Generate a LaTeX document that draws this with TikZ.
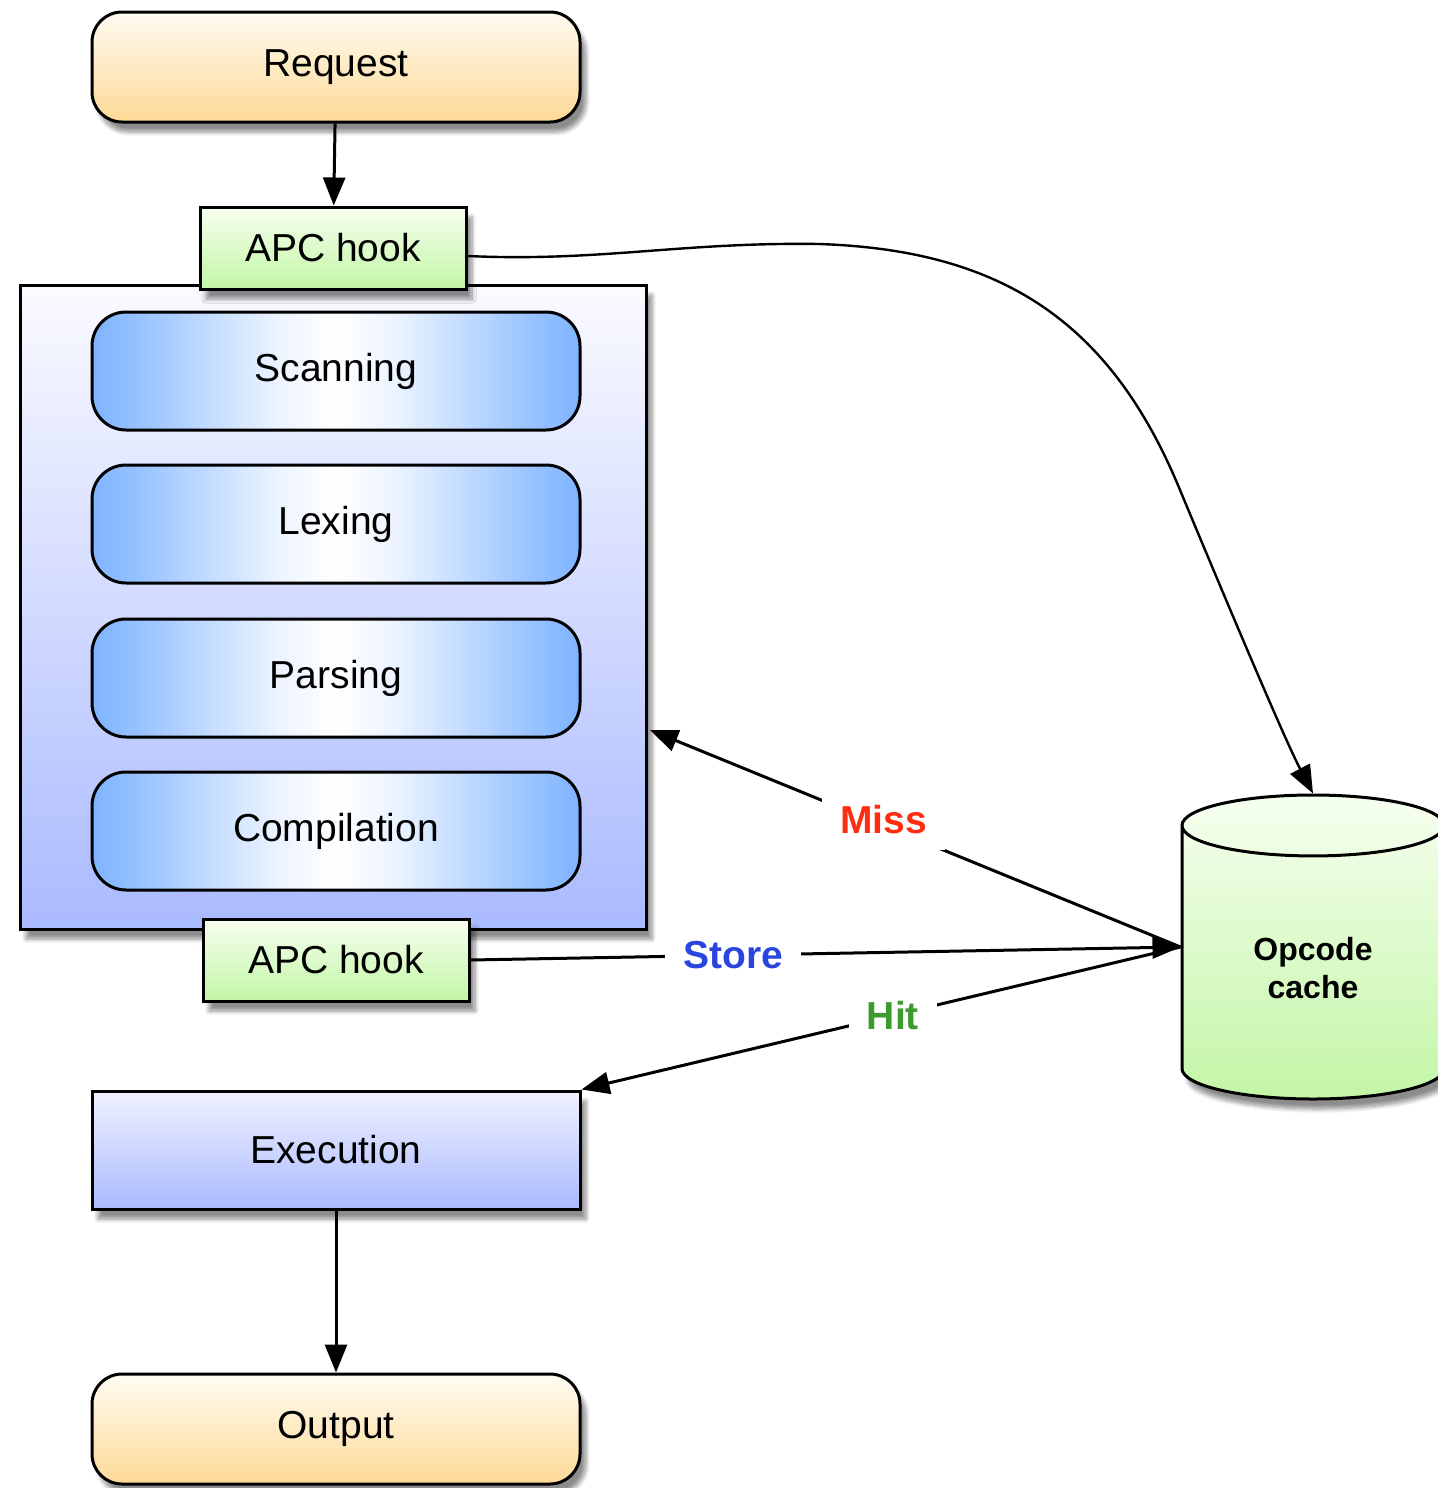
\documentclass[tikz,border=0pt]{standalone}
\usepackage{fontspec}
\setmainfont{Liberation Sans}
\usetikzlibrary{shapes.geometric,arrows.meta,shadows.blur}
\definecolor{cream}{HTML}{FFFCF2}
\definecolor{apricot}{HTML}{FDD996}
\definecolor{mint}{HTML}{F6FFF0}
\definecolor{leaf}{HTML}{C3F6A6}
\definecolor{sky}{HTML}{7EB3FF}
\definecolor{lilac}{HTML}{AABAFF}
\definecolor{frost}{HTML}{FAFAFF}
\definecolor{pale}{HTML}{F0F2FF}
\definecolor{missred}{HTML}{FF2D10}
\definecolor{storeblue}{HTML}{2A45DE}
\definecolor{hitgreen}{HTML}{3B9B2C}
\pgfdeclarehorizontalshading{stageglow}{100bp}{color(0bp)=(sky); color(25bp)=(sky); color(31bp)=(sky!75!white);
  color(38bp)=(sky!42!white); color(44bp)=(sky!15!white); color(50bp)=(white); color(56bp)=(sky!15!white);
  color(62bp)=(sky!42!white); color(69bp)=(sky!75!white); color(75bp)=(sky); color(100bp)=(sky)}
\tikzset{
  boxshadow/.style={blur shadow={shadow xshift=3pt,shadow yshift=-5pt,shadow blur steps=8,shadow opacity=45}},
  box/.style={draw,line width=1.5pt,font=\fontsize{19.5}{23}\selectfont},
  endbox/.style={box,boxshadow,rounded corners=15pt,minimum width=244pt,minimum height=55pt,top color=cream,bottom color=apricot},
  hook/.style={box,boxshadow,minimum width=133pt,minimum height=41pt,top color=mint,bottom color=leaf},
  stage/.style={box,rounded corners=17pt,minimum width=244pt,minimum height=59pt,shading=stageglow},
  lbl/.style={fill=white,font=\bfseries\fontsize{19.5}{23}\selectfont,inner xsep=9pt,inner ysep=8pt},
  arr/.style={-{Triangle[length=14pt,width=11pt]},line width=1.5pt}
}

\begin{document}
\begin{tikzpicture}[x=0.5pt,y=-0.5pt]
\useasboundingbox (0,0) rectangle (1437,1488);
% compiler block
\node[box,boxshadow,minimum width=313pt,minimum height=322pt,top color=frost,bottom color=lilac] (frame) at (333,607) {};
\foreach \name/\txt/\y in {scan/Scanning/371,lex/Lexing/524,pars/Parsing/678,comp/Compilation/831}
\node[stage] (\name) at (336,\y) {\txt};
\node[endbox] (req) at (336,67) {Request};
\node[hook] (hookin) at (333,248) {APC hook};
\node[hook] (hookout) at (336,960) {APC hook};
\node[box,boxshadow,minimum width=244pt,minimum height=59pt,top color=pale,bottom color=lilac] (exec) at (336,1150) {Execution};
\node[endbox] (out) at (336,1429) {Output};
% cache
\node[cylinder,shape border rotate=90,draw,line width=1.5pt,aspect=0.46,minimum width=131pt,minimum height=152pt,top color=mint,bottom color=leaf,boxshadow,font=\bfseries\fontsize{16}{19}\selectfont,align=center,anchor=shape center] (cache) at (1313,947) {Opcode\\cache};
\coordinate (missend) at (650,730);
\coordinate (cachein) at (cache.shape center -| cache.west);
\draw[arr] (req) -- (hookin);
\draw[arr] (exec) -- (out);
\draw[arr,line width=1.2pt] ([yshift=-4pt]hookin.east) .. controls (600,262) and (680,242) .. (819,244)
  .. controls (1000,250) and (1110,320) .. (1180,490)
  .. controls (1230,610) and (1285,740) .. (cache.north);
\draw[arr] (cachein) -- node[lbl,pos=0.56,text=missred,yshift=3pt] (miss) {Miss} (missend);
\draw[arr] (hookout.east) -- node[lbl,pos=0.37,text=storeblue] (store) {Store} (cachein);
\draw[arr] (cachein) -- node[lbl,pos=0.48,text=hitgreen] (hit) {Hit} (exec.north east);
\end{tikzpicture}
\end{document}
